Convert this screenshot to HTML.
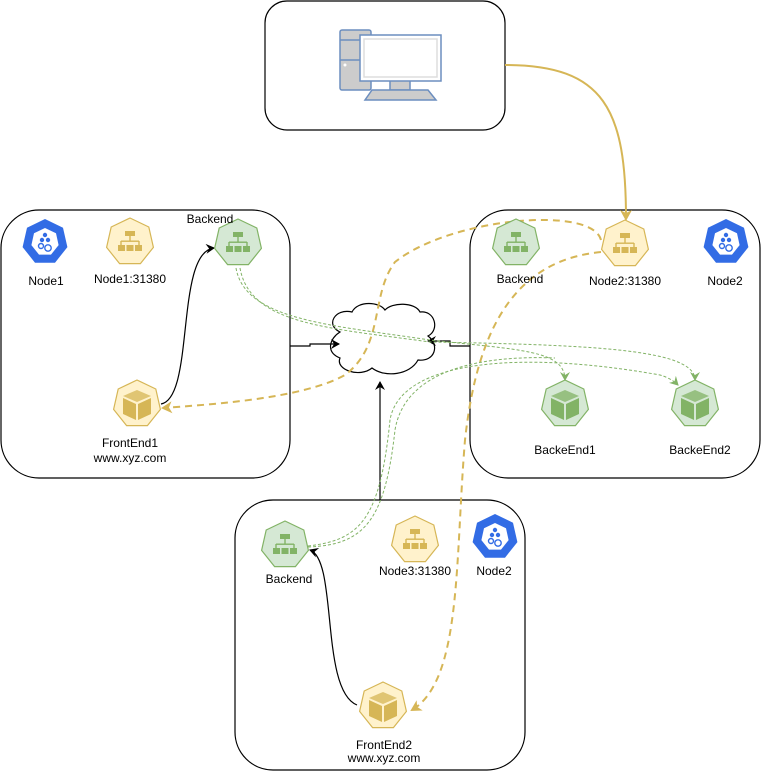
<!DOCTYPE html>
<html><head><meta charset="utf-8"><style>
html,body{margin:0;padding:0;background:#fff;}
svg{display:block;font-family:"Liberation Sans",Arial,sans-serif;}
</style></head><body>
<svg width="761" height="771" viewBox="0 0 761 771" xmlns="http://www.w3.org/2000/svg">
<defs>
<polygon id="hep" points="0,-24 18.8,-15 23.4,5.4 10.4,21.6 -10.4,21.6 -23.4,5.4 -18.8,-15"/>
<g id="net">
<rect x="-5" y="-11" width="10" height="5"/>
<rect x="-0.7" y="-6" width="1.4" height="5"/>
<rect x="-9" y="-1.5" width="18" height="1.4"/>
<rect x="-9.7" y="-1" width="1.4" height="4"/><rect x="8.3" y="-1" width="1.4" height="4"/>
<rect x="-12" y="3" width="7" height="6"/><rect x="-3.5" y="3" width="7" height="6"/><rect x="5" y="3" width="7" height="6"/>
</g>
<g id="cube">
<polygon points="-14,-8 0,-14 14,-8 0,-2" opacity="0.75"/>
<polygon points="-14,-6 -1,0 -1,16 -14,10"/>
<polygon points="14,-6 1,0 1,16 14,10"/>
</g>
<g id="k8s">
<polygon points="0,-23 18,-14.3 22.4,5.1 10,20.7 -10,20.7 -22.4,5.1 -18,-14.3" fill="#326ce5"/>
<polygon points="0,-14 11,-8.7 13.6,3.1 6,12.6 -6,12.6 -13.6,3.1 -11,-8.7" fill="#fff"/>
<g fill="#326ce5"><circle cx="0" cy="-7" r="2.2"/><circle cx="-3" cy="-2" r="2.2"/><circle cx="3" cy="-2" r="2.2"/></g>
<g fill="none" stroke="#326ce5" stroke-width="1.4"><circle cx="-4" cy="4" r="2.5"/><circle cx="3" cy="6" r="3.2"/></g>
</g>
<marker id="ab" markerWidth="10" markerHeight="10" refX="8" refY="5" orient="auto" markerUnits="userSpaceOnUse"><path d="M0,0 L9,5 L0,10 L3,5z" fill="#000"/></marker>
<marker id="ag" markerWidth="12" markerHeight="12" refX="9" refY="6" orient="auto" markerUnits="userSpaceOnUse"><path d="M0,0 L11,6 L0,12 L3,6z" fill="#d6b656"/></marker>
<marker id="agr" markerWidth="10" markerHeight="10" refX="8" refY="5" orient="auto" markerUnits="userSpaceOnUse"><path d="M0,0 L9,5 L0,10 L3,5z" fill="#82b366"/></marker>
</defs>

<g fill="#fff" stroke="#000" stroke-width="1.2">
<rect x="265" y="1" width="240" height="129" rx="22"/>
<rect x="1" y="210" width="289" height="268" rx="38"/>
<rect x="470" y="210" width="290" height="268" rx="38"/>
<rect x="235" y="500" width="290" height="270" rx="38"/>
</g>

<g stroke="#6c8ebf" stroke-width="1.5">
<rect x="340" y="30" width="31" height="60" rx="2" fill="#ccc"/>
<line x1="340" y1="40" x2="362" y2="40"/><line x1="340" y1="60" x2="362" y2="60"/>
<rect x="390" y="80" width="20" height="10" fill="#ccc"/>
<rect x="360" y="35" width="81" height="46" fill="#fff"/>
<rect x="364" y="39" width="73" height="38" fill="#fff" stroke="#ddd"/>
<polygon points="372,90 428,90 436,100 365,100" fill="#ccc"/>
</g>
<circle cx="345" cy="65" r="1.5" fill="#fff"/>

<path d="M340,332 C325,325 335,308 352,312 C358,300 380,302 385,310 C392,302 415,302 420,312 C435,310 440,330 428,336 C440,345 435,362 418,360 C410,375 385,378 372,368 C360,378 335,370 340,358 C325,352 330,338 340,332z" fill="#fff" stroke="#000" stroke-width="1.2"/>

<g fill="none" stroke="#000" stroke-width="1.2">
<path d="M290,346 L310,346 L310,344 L339,344" marker-end="url(#ab)"/>
<path d="M470,346 L450,346 L450,341 L428,341" marker-end="url(#ab)"/>
<path d="M380,500 L380,382" marker-end="url(#ab)"/>
<path d="M161,404 C195,398 175,252 214,248" marker-end="url(#ab)"/>
<path d="M357,705 C320,690 338,560 310,550" marker-end="url(#ab)"/>
</g>

<g fill="none" stroke="#d6b656" stroke-width="2">
<path d="M505,65 C605,65 626,110 626,219" marker-end="url(#ag)"/>
<path d="M601,240 C592,205 450,218 395,262 C370,295 385,345 345,375 C300,400 200,405 163,408" stroke-dasharray="7,5" marker-end="url(#ag)"/>
<path d="M601,252 C520,260 478,320 465,440 C455,560 462,680 412,710" stroke-dasharray="7,5" marker-end="url(#ag)"/>
</g>

<g fill="none" stroke="#82b366" stroke-width="1" stroke-dasharray="3,2">
<path d="M236,268 C245,320 330,325 430,340 C520,350 565,350 565,380" marker-end="url(#agr)"/>
<path d="M240,268 C250,325 330,328 430,342 C600,345 695,350 695,380" marker-end="url(#agr)"/>
<path d="M308,546 C360,540 380,520 390,420 C400,360 520,350 660,375 C670,378 675,382 678,385" marker-end="url(#agr)"/>
<path d="M308,547 C365,545 385,520 395,430 C405,370 480,355 555,358"/>
</g>

<use href="#k8s" x="45" y="242"/>
<use href="#k8s" x="726" y="242"/>
<use href="#k8s" x="495" y="537"/>

<g fill="#fff2cc" stroke="#d6b656" stroke-width="1.2">
<use href="#hep" x="130" y="242"/>
<use href="#hep" x="625" y="244"/>
<use href="#hep" x="415" y="540"/>
<use href="#hep" x="137" y="404"/>
<use href="#hep" x="383" y="706"/>
</g>
<g fill="#d5e8d4" stroke="#82b366" stroke-width="1.2">
<use href="#hep" x="238" y="243"/>
<use href="#hep" x="516" y="243"/>
<use href="#hep" x="285" y="545"/>
<use href="#hep" x="565" y="404"/>
<use href="#hep" x="695" y="404"/>
</g>
<g fill="#d6b656">
<use href="#net" x="130" y="242"/>
<use href="#net" x="625" y="244"/>
<use href="#net" x="415" y="540"/>
<use href="#cube" x="137" y="404"/>
<use href="#cube" x="383" y="706"/>
</g>
<g fill="#82b366">
<use href="#net" x="238" y="243"/>
<use href="#net" x="516" y="243"/>
<use href="#net" x="285" y="545"/>
<use href="#cube" x="565" y="404"/>
<use href="#cube" x="695" y="404"/>
</g>

<g font-size="12" fill="#000" text-anchor="middle">
<text x="46" y="285">Node1</text>
<text x="130" y="283">Node1:31380</text>
<text x="210" y="223">Backend</text>
<text x="130" y="447">FrontEnd1</text>
<text x="130" y="462">www.xyz.com</text>
<text x="520" y="283">Backend</text>
<text x="625" y="285">Node2:31380</text>
<text x="725" y="285">Node2</text>
<text x="565" y="454">BackeEnd1</text>
<text x="700" y="454">BackeEnd2</text>
<text x="289" y="583">Backend</text>
<text x="415" y="575">Node3:31380</text>
<text x="494" y="575">Node2</text>
<text x="384" y="749">FrontEnd2</text>
<text x="384" y="762">www.xyz.com</text>
</g>
</svg>
</body></html>
